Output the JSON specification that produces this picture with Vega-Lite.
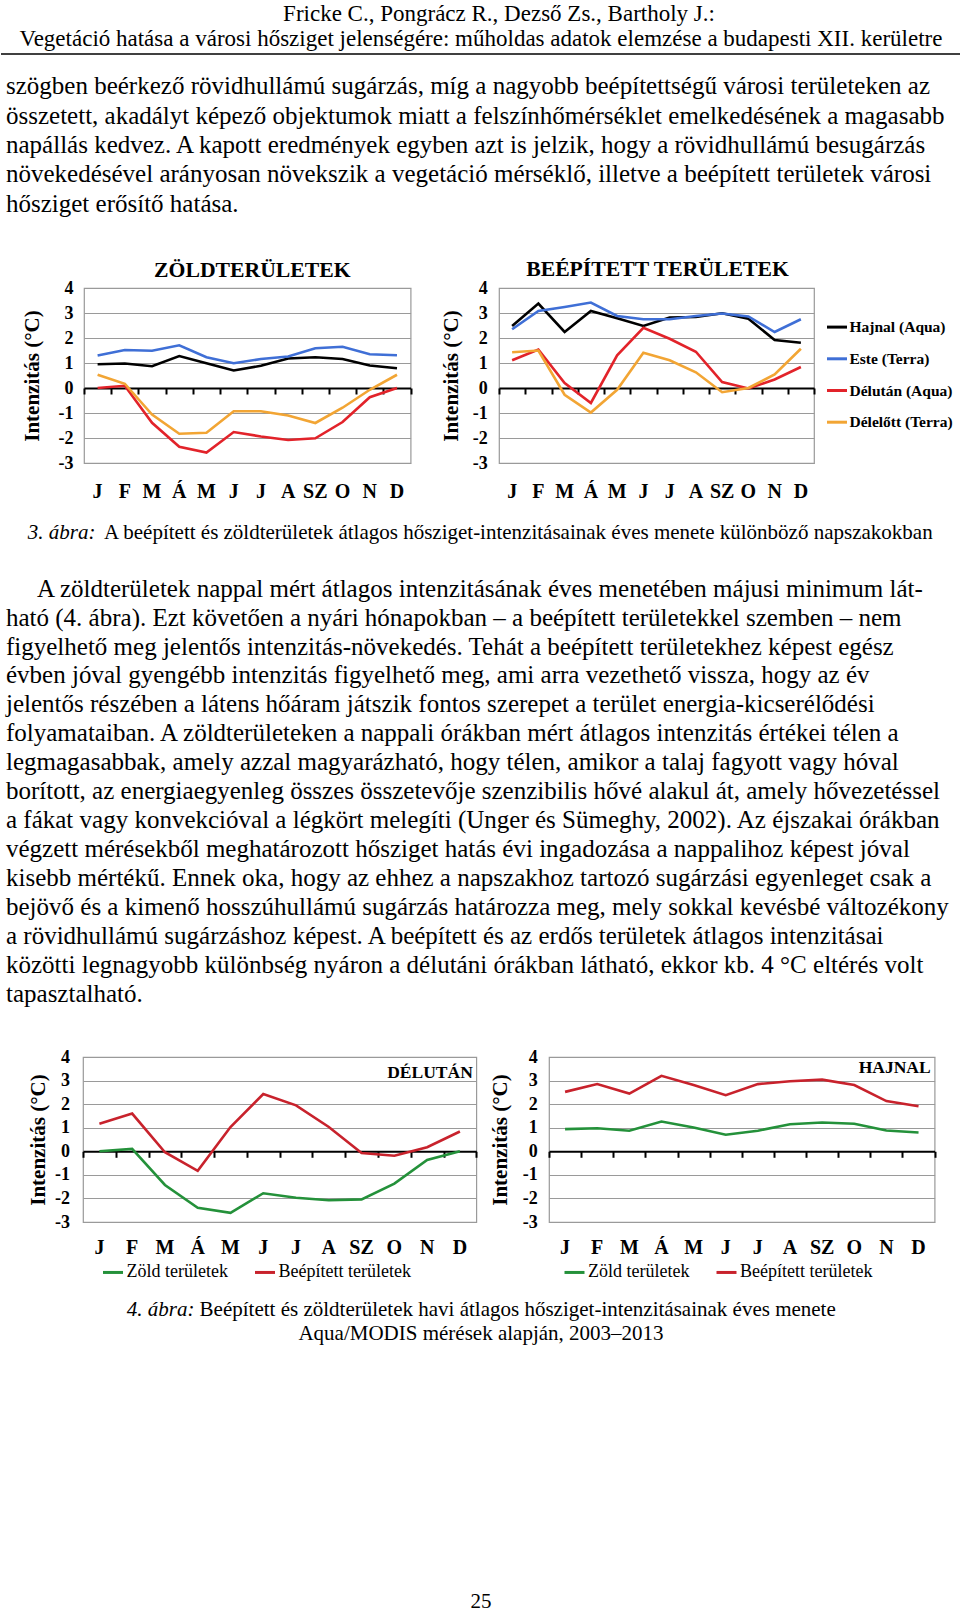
{
  "$schema": "https://vega.github.io/schema/vega-lite/v6.json",
  "background": "white",
  "padding": 0,
  "spacing": 0,
  "config": {
    "view": {"stroke": null},
    "font": "Liberation Serif",
    "concat": {"spacing": 0}
  },
  "resolve": {"scale": {"color": "independent", "x": "independent", "y": "independent"}, "legend": {"color": "independent"}},
  "datasets": {
    "fig3": [
      {"panel": "zold", "series": "Hajnal (Aqua)", "m": 1, "v": 0.95}, {"panel": "zold", "series": "Hajnal (Aqua)", "m": 2, "v": 0.98}, {"panel": "zold", "series": "Hajnal (Aqua)", "m": 3, "v": 0.87}, {"panel": "zold", "series": "Hajnal (Aqua)", "m": 4, "v": 1.28}, {"panel": "zold", "series": "Hajnal (Aqua)", "m": 5, "v": 0.99}, {"panel": "zold", "series": "Hajnal (Aqua)", "m": 6, "v": 0.70}, {"panel": "zold", "series": "Hajnal (Aqua)", "m": 7, "v": 0.89}, {"panel": "zold", "series": "Hajnal (Aqua)", "m": 8, "v": 1.18}, {"panel": "zold", "series": "Hajnal (Aqua)", "m": 9, "v": 1.23}, {"panel": "zold", "series": "Hajnal (Aqua)", "m": 10, "v": 1.16}, {"panel": "zold", "series": "Hajnal (Aqua)", "m": 11, "v": 0.90}, {"panel": "zold", "series": "Hajnal (Aqua)", "m": 12, "v": 0.79},
      {"panel": "zold", "series": "Este (Terra)", "m": 1, "v": 1.30}, {"panel": "zold", "series": "Este (Terra)", "m": 2, "v": 1.52}, {"panel": "zold", "series": "Este (Terra)", "m": 3, "v": 1.49}, {"panel": "zold", "series": "Este (Terra)", "m": 4, "v": 1.71}, {"panel": "zold", "series": "Este (Terra)", "m": 5, "v": 1.23}, {"panel": "zold", "series": "Este (Terra)", "m": 6, "v": 0.99}, {"panel": "zold", "series": "Este (Terra)", "m": 7, "v": 1.16}, {"panel": "zold", "series": "Este (Terra)", "m": 8, "v": 1.26}, {"panel": "zold", "series": "Este (Terra)", "m": 9, "v": 1.59}, {"panel": "zold", "series": "Este (Terra)", "m": 10, "v": 1.65}, {"panel": "zold", "series": "Este (Terra)", "m": 11, "v": 1.35}, {"panel": "zold", "series": "Este (Terra)", "m": 12, "v": 1.31},
      {"panel": "zold", "series": "Délután (Aqua)", "m": 1, "v": 0.0}, {"panel": "zold", "series": "Délután (Aqua)", "m": 2, "v": 0.09}, {"panel": "zold", "series": "Délután (Aqua)", "m": 3, "v": -1.39}, {"panel": "zold", "series": "Délután (Aqua)", "m": 4, "v": -2.35}, {"panel": "zold", "series": "Délután (Aqua)", "m": 5, "v": -2.58}, {"panel": "zold", "series": "Délután (Aqua)", "m": 6, "v": -1.76}, {"panel": "zold", "series": "Délután (Aqua)", "m": 7, "v": -1.94}, {"panel": "zold", "series": "Délután (Aqua)", "m": 8, "v": -2.08}, {"panel": "zold", "series": "Délután (Aqua)", "m": 9, "v": -2.01}, {"panel": "zold", "series": "Délután (Aqua)", "m": 10, "v": -1.36}, {"panel": "zold", "series": "Délután (Aqua)", "m": 11, "v": -0.37}, {"panel": "zold", "series": "Délután (Aqua)", "m": 12, "v": 0.0},
      {"panel": "zold", "series": "Délelőtt (Terra)", "m": 1, "v": 0.53}, {"panel": "zold", "series": "Délelőtt (Terra)", "m": 2, "v": 0.17}, {"panel": "zold", "series": "Délelőtt (Terra)", "m": 3, "v": -1.06}, {"panel": "zold", "series": "Délelőtt (Terra)", "m": 4, "v": -1.83}, {"panel": "zold", "series": "Délelőtt (Terra)", "m": 5, "v": -1.79}, {"panel": "zold", "series": "Délelőtt (Terra)", "m": 6, "v": -0.93}, {"panel": "zold", "series": "Délelőtt (Terra)", "m": 7, "v": -0.93}, {"panel": "zold", "series": "Délelőtt (Terra)", "m": 8, "v": -1.10}, {"panel": "zold", "series": "Délelőtt (Terra)", "m": 9, "v": -1.40}, {"panel": "zold", "series": "Délelőtt (Terra)", "m": 10, "v": -0.79}, {"panel": "zold", "series": "Délelőtt (Terra)", "m": 11, "v": -0.07}, {"panel": "zold", "series": "Délelőtt (Terra)", "m": 12, "v": 0.53},
      {"panel": "beep", "series": "Hajnal (Aqua)", "m": 1, "v": 2.48}, {"panel": "beep", "series": "Hajnal (Aqua)", "m": 2, "v": 3.38}, {"panel": "beep", "series": "Hajnal (Aqua)", "m": 3, "v": 2.24}, {"panel": "beep", "series": "Hajnal (Aqua)", "m": 4, "v": 3.08}, {"panel": "beep", "series": "Hajnal (Aqua)", "m": 5, "v": 2.79}, {"panel": "beep", "series": "Hajnal (Aqua)", "m": 6, "v": 2.48}, {"panel": "beep", "series": "Hajnal (Aqua)", "m": 7, "v": 2.82}, {"panel": "beep", "series": "Hajnal (Aqua)", "m": 8, "v": 2.84}, {"panel": "beep", "series": "Hajnal (Aqua)", "m": 9, "v": 2.99}, {"panel": "beep", "series": "Hajnal (Aqua)", "m": 10, "v": 2.77}, {"panel": "beep", "series": "Hajnal (Aqua)", "m": 11, "v": 1.92}, {"panel": "beep", "series": "Hajnal (Aqua)", "m": 12, "v": 1.81},
      {"panel": "beep", "series": "Este (Terra)", "m": 1, "v": 2.35}, {"panel": "beep", "series": "Este (Terra)", "m": 2, "v": 3.08}, {"panel": "beep", "series": "Este (Terra)", "m": 3, "v": 3.24}, {"panel": "beep", "series": "Este (Terra)", "m": 4, "v": 3.42}, {"panel": "beep", "series": "Este (Terra)", "m": 5, "v": 2.88}, {"panel": "beep", "series": "Este (Terra)", "m": 6, "v": 2.75}, {"panel": "beep", "series": "Este (Terra)", "m": 7, "v": 2.75}, {"panel": "beep", "series": "Este (Terra)", "m": 8, "v": 2.88}, {"panel": "beep", "series": "Este (Terra)", "m": 9, "v": 2.98}, {"panel": "beep", "series": "Este (Terra)", "m": 10, "v": 2.86}, {"panel": "beep", "series": "Este (Terra)", "m": 11, "v": 2.24}, {"panel": "beep", "series": "Este (Terra)", "m": 12, "v": 2.75},
      {"panel": "beep", "series": "Délután (Aqua)", "m": 1, "v": 1.11}, {"panel": "beep", "series": "Délután (Aqua)", "m": 2, "v": 1.54}, {"panel": "beep", "series": "Délután (Aqua)", "m": 3, "v": 0.20}, {"panel": "beep", "series": "Délután (Aqua)", "m": 4, "v": -0.60}, {"panel": "beep", "series": "Délután (Aqua)", "m": 5, "v": 1.31}, {"panel": "beep", "series": "Délután (Aqua)", "m": 6, "v": 2.41}, {"panel": "beep", "series": "Délután (Aqua)", "m": 7, "v": 1.97}, {"panel": "beep", "series": "Délután (Aqua)", "m": 8, "v": 1.45}, {"panel": "beep", "series": "Délután (Aqua)", "m": 9, "v": 0.24}, {"panel": "beep", "series": "Délután (Aqua)", "m": 10, "v": -0.02}, {"panel": "beep", "series": "Délután (Aqua)", "m": 11, "v": 0.34}, {"panel": "beep", "series": "Délután (Aqua)", "m": 12, "v": 0.84},
      {"panel": "beep", "series": "Délelőtt (Terra)", "m": 1, "v": 1.43}, {"panel": "beep", "series": "Délelőtt (Terra)", "m": 2, "v": 1.50}, {"panel": "beep", "series": "Délelőtt (Terra)", "m": 3, "v": -0.27}, {"panel": "beep", "series": "Délelőtt (Terra)", "m": 4, "v": -0.98}, {"panel": "beep", "series": "Délelőtt (Terra)", "m": 5, "v": -0.07}, {"panel": "beep", "series": "Délelőtt (Terra)", "m": 6, "v": 1.41}, {"panel": "beep", "series": "Délelőtt (Terra)", "m": 7, "v": 1.11}, {"panel": "beep", "series": "Délelőtt (Terra)", "m": 8, "v": 0.63}, {"panel": "beep", "series": "Délelőtt (Terra)", "m": 9, "v": -0.17}, {"panel": "beep", "series": "Délelőtt (Terra)", "m": 10, "v": 0.0}, {"panel": "beep", "series": "Délelőtt (Terra)", "m": 11, "v": 0.54}, {"panel": "beep", "series": "Délelőtt (Terra)", "m": 12, "v": 1.57}
    ],
    "fig4": [
      {"panel": "delutan", "series": "Zöld területek", "m": 1, "v": 0.0}, {"panel": "delutan", "series": "Zöld területek", "m": 2, "v": 0.10}, {"panel": "delutan", "series": "Zöld területek", "m": 3, "v": -1.43}, {"panel": "delutan", "series": "Zöld területek", "m": 4, "v": -2.40}, {"panel": "delutan", "series": "Zöld területek", "m": 5, "v": -2.61}, {"panel": "delutan", "series": "Zöld területek", "m": 6, "v": -1.78}, {"panel": "delutan", "series": "Zöld területek", "m": 7, "v": -1.97}, {"panel": "delutan", "series": "Zöld területek", "m": 8, "v": -2.08}, {"panel": "delutan", "series": "Zöld területek", "m": 9, "v": -2.04}, {"panel": "delutan", "series": "Zöld területek", "m": 10, "v": -1.37}, {"panel": "delutan", "series": "Zöld területek", "m": 11, "v": -0.37}, {"panel": "delutan", "series": "Zöld területek", "m": 12, "v": 0.0},
      {"panel": "delutan", "series": "Beépített területek", "m": 1, "v": 1.17}, {"panel": "delutan", "series": "Beépített területek", "m": 2, "v": 1.60}, {"panel": "delutan", "series": "Beépített területek", "m": 3, "v": -0.04}, {"panel": "delutan", "series": "Beépített területek", "m": 4, "v": -0.83}, {"panel": "delutan", "series": "Beépített területek", "m": 5, "v": 1.03}, {"panel": "delutan", "series": "Beépített területek", "m": 6, "v": 2.43}, {"panel": "delutan", "series": "Beépített területek", "m": 7, "v": 1.95}, {"panel": "delutan", "series": "Beépített területek", "m": 8, "v": 1.03}, {"panel": "delutan", "series": "Beépített területek", "m": 9, "v": -0.07}, {"panel": "delutan", "series": "Beépített területek", "m": 10, "v": -0.19}, {"panel": "delutan", "series": "Beépített területek", "m": 11, "v": 0.17}, {"panel": "delutan", "series": "Beépített területek", "m": 12, "v": 0.84},
      {"panel": "hajnal", "series": "Zöld területek", "m": 1, "v": 0.94}, {"panel": "hajnal", "series": "Zöld területek", "m": 2, "v": 0.98}, {"panel": "hajnal", "series": "Zöld területek", "m": 3, "v": 0.87}, {"panel": "hajnal", "series": "Zöld területek", "m": 4, "v": 1.26}, {"panel": "hajnal", "series": "Zöld területek", "m": 5, "v": 1.01}, {"panel": "hajnal", "series": "Zöld területek", "m": 6, "v": 0.70}, {"panel": "hajnal", "series": "Zöld területek", "m": 7, "v": 0.87}, {"panel": "hajnal", "series": "Zöld területek", "m": 8, "v": 1.15}, {"panel": "hajnal", "series": "Zöld területek", "m": 9, "v": 1.22}, {"panel": "hajnal", "series": "Zöld területek", "m": 10, "v": 1.17}, {"panel": "hajnal", "series": "Zöld területek", "m": 11, "v": 0.88}, {"panel": "hajnal", "series": "Zöld területek", "m": 12, "v": 0.80},
      {"panel": "hajnal", "series": "Beépített területek", "m": 1, "v": 2.52}, {"panel": "hajnal", "series": "Beépített területek", "m": 2, "v": 2.85}, {"panel": "hajnal", "series": "Beépített területek", "m": 3, "v": 2.45}, {"panel": "hajnal", "series": "Beépített területek", "m": 4, "v": 3.20}, {"panel": "hajnal", "series": "Beépített területek", "m": 5, "v": 2.81}, {"panel": "hajnal", "series": "Beépített területek", "m": 6, "v": 2.38}, {"panel": "hajnal", "series": "Beépített területek", "m": 7, "v": 2.85}, {"panel": "hajnal", "series": "Beépített területek", "m": 8, "v": 2.97}, {"panel": "hajnal", "series": "Beépített területek", "m": 9, "v": 3.04}, {"panel": "hajnal", "series": "Beépített területek", "m": 10, "v": 2.81}, {"panel": "hajnal", "series": "Beépített területek", "m": 11, "v": 2.13}, {"panel": "hajnal", "series": "Beépített területek", "m": 12, "v": 1.91}
    ]
  },
  "vconcat": [
    {
      "width": 960, "height": 57,
      "layer": [
        {
          "data": {"values": [
            {"line": 1, "text": "Fricke C., Pongrácz R., Dezső Zs., Bartholy J.:"}
          ]},
          "mark": {"type": "text", "font": "Liberation Serif", "fontSize": 23, "align": "center", "baseline": "middle", "color": "#000", "dx": 18},
          "encoding": {
            "y": {"field": "line", "type": "quantitative", "scale": {"domain": [0.44, 2.72], "range": [0, 57], "nice": false, "zero": false}, "axis": null},
            "text": {"field": "text"}
          }
        },
        {
          "data": {"values": [
            {"line": 2, "text": "Vegetáció hatása a városi hősziget jelenségére: műholdas adatok elemzése a budapesti XII. kerületre"}
          ]},
          "mark": {"type": "text", "font": "Liberation Serif", "fontSize": 23, "align": "center", "baseline": "middle", "color": "#000"},
          "encoding": {
            "y": {"field": "line", "type": "quantitative", "axis": null},
            "text": {"field": "text"}
          }
        },
        {
          "data": {"values": [{}]},
          "mark": {"type": "rule", "color": "#000", "strokeWidth": 1.5},
          "encoding": {"y": {"datum": 2.6}}
        }
      ]
    },
    {
      "width": 960, "height": 200.15,
      "data": {"values": [
        {"line": 1, "text": "szögben beérkező rövidhullámú sugárzás, míg a nagyobb beépítettségű városi területeken az"},
        {"line": 2, "text": "összetett, akadályt képező objektumok miatt a felszínhőmérséklet emelkedésének a magasabb"},
        {"line": 3, "text": "napállás kedvez. A kapott eredmények egyben azt is jelzik, hogy a rövidhullámú besugárzás"},
        {"line": 4, "text": "növekedésével arányosan növekszik a vegetáció mérséklő, illetve a beépített területek városi"},
        {"line": 5, "text": "hősziget erősítő hatása."}
      ]},
      "mark": {"type": "text", "font": "Liberation Serif", "fontSize": 25, "align": "left", "baseline": "middle", "color": "#000", "x": 5},
      "encoding": {
        "y": {"field": "line", "type": "quantitative", "scale": {"domain": [-0.0024, 6.8216], "range": [0, 200.15], "nice": false, "zero": false}, "axis": null},
        "text": {"field": "text"}
      }
    },
    {
      "bounds": "flush",
      "spacing": 0,
      "resolve": {"scale": {"color": "independent", "x": "independent", "y": "independent"}, "legend": {"color": "independent"}},
      "hconcat": [
        {"width": 82.7, "height": 175, "data": {"values": [{}]}, "mark": {"type": "text"}, "encoding": {"text": {"value": ""}}},
        {
          "width": 326.6, "height": 175,
          "view": {"stroke": "#9a9a9a", "strokeWidth": 1.2},
          "resolve": {"axis": {"x": "independent", "y": "independent"}},
          "layer": [
            {
              "data": {"name": "fig3"},
              "transform": [{"filter": "datum.panel === 'zold'"}],
              "mark": {"type": "line", "strokeWidth": 2.6},
              "encoding": {
                "x": {"field": "m", "type": "ordinal", "scale": {"type": "band", "paddingInner": 0, "paddingOuter": 0},
                  "axis": {"orient": "bottom", "offset": -75, "labels": false, "title": null, "grid": false, "domain": true, "domainColor": "#000", "domainWidth": 2, "ticks": true, "tickColor": "#000", "tickWidth": 2, "tickSize": 6, "tickBand": "extent"}},
                "y": {"field": "v", "type": "quantitative", "scale": {"domain": [-3, 4], "nice": false, "zero": false},
                  "axis": {"values": [-3, -2, -1, 0, 1, 2, 3, 4], "labelExpr": "replace(datum.label, '−', '-')", "grid": true, "gridColor": "#9a9a9a", "gridWidth": 1.2, "domain": false, "ticks": false, "tickSize": 0, "labelPadding": 11, "labelFont": "Liberation Serif", "labelFontSize": 18, "labelFontWeight": "bold", "labelColor": "#000", "labelBaseline": "middle", "title": "Intenzitás (°C)", "titleFont": "Liberation Serif", "titleFontSize": 21, "titleFontWeight": "bold", "titleColor": "#000", "titleAngle": -90, "titleBaseline": "middle", "titleAlign": "center", "titleX": -52, "titleY": 87.5}},
                "color": {"field": "series", "type": "nominal", "scale": {"domain": ["Hajnal (Aqua)", "Este (Terra)", "Délután (Aqua)", "Délelőtt (Terra)"], "range": ["#000000", "#3f6fd6", "#e2232a", "#f2a534"]}, "legend": null}
              }
            },
            {
              "data": {"name": "fig3"},
              "transform": [{"filter": "datum.panel === 'zold'"}],
              "mark": {"type": "line", "opacity": 0},
              "encoding": {
                "x": {"field": "m", "type": "ordinal",
                  "axis": {"orient": "bottom", "domain": false, "ticks": false, "tickSize": 0, "grid": false, "title": null, "labelPadding": 28, "labelBaseline": "middle", "labelAngle": 0, "labelOverlap": false, "labelFont": "Liberation Serif", "labelFontSize": 20, "labelFontWeight": "bold", "labelColor": "#000", "labelExpr": "['J','F','M','Á','M','J','J','A','SZ','O','N','D'][datum.value-1]"}},
                "y": {"field": "v", "type": "quantitative", "axis": null},
                "detail": {"field": "series"}
              }
            },
            {
              "data": {"values": [{"t": "ZÖLDTERÜLETEK"}]},
              "mark": {"type": "text", "font": "Liberation Serif", "fontSize": 21.7, "fontWeight": "bold", "color": "#000", "baseline": "middle", "align": "center", "dy": -18, "dx": 5},
              "encoding": {"y": {"datum": 4, "axis": null}, "text": {"field": "t"}}
            }
          ]
        },
        {"width": 87.4, "height": 175, "data": {"values": [{}]}, "mark": {"type": "text"}, "encoding": {"text": {"value": ""}}},
        {
          "width": 315, "height": 175,
          "view": {"stroke": "#9a9a9a", "strokeWidth": 1.2},
          "resolve": {"axis": {"x": "independent", "y": "independent"}},
          "layer": [
            {
              "data": {"name": "fig3"},
              "transform": [{"filter": "datum.panel === 'beep'"}],
              "mark": {"type": "line", "strokeWidth": 2.6},
              "encoding": {
                "x": {"field": "m", "type": "ordinal", "scale": {"type": "band", "paddingInner": 0, "paddingOuter": 0},
                  "axis": {"orient": "bottom", "offset": -75, "labels": false, "title": null, "grid": false, "domain": true, "domainColor": "#000", "domainWidth": 2, "ticks": true, "tickColor": "#000", "tickWidth": 2, "tickSize": 6, "tickBand": "extent"}},
                "y": {"field": "v", "type": "quantitative", "scale": {"domain": [-3, 4], "nice": false, "zero": false},
                  "axis": {"values": [-3, -2, -1, 0, 1, 2, 3, 4], "labelExpr": "replace(datum.label, '−', '-')", "grid": true, "gridColor": "#9a9a9a", "gridWidth": 1.2, "domain": false, "ticks": false, "tickSize": 0, "labelPadding": 11.7, "labelFont": "Liberation Serif", "labelFontSize": 18, "labelFontWeight": "bold", "labelColor": "#000", "labelBaseline": "middle", "title": "Intenzitás (°C)", "titleFont": "Liberation Serif", "titleFontSize": 21, "titleFontWeight": "bold", "titleColor": "#000", "titleAngle": -90, "titleBaseline": "middle", "titleAlign": "center", "titleX": -48, "titleY": 87.5}},
                "color": {"field": "series", "type": "nominal", "scale": {"domain": ["Hajnal (Aqua)", "Este (Terra)", "Délután (Aqua)", "Délelőtt (Terra)"], "range": ["#000000", "#3f6fd6", "#e2232a", "#f2a534"]},
                  "legend": {"orient": "none", "legendX": 326.5, "legendY": 27.6, "direction": "vertical", "title": null, "symbolType": "stroke", "symbolSize": 400, "symbolStrokeWidth": 3, "labelFont": "Liberation Serif", "labelFontSize": 15.5, "labelFontWeight": "bold", "labelColor": "#000", "labelOffset": 1, "rowPadding": 11.7, "padding": 0}}
              }
            },
            {
              "data": {"name": "fig3"},
              "transform": [{"filter": "datum.panel === 'beep'"}],
              "mark": {"type": "line", "opacity": 0},
              "encoding": {
                "x": {"field": "m", "type": "ordinal",
                  "axis": {"orient": "bottom", "domain": false, "ticks": false, "tickSize": 0, "grid": false, "title": null, "labelPadding": 28, "labelBaseline": "middle", "labelAngle": 0, "labelOverlap": false, "labelFont": "Liberation Serif", "labelFontSize": 20, "labelFontWeight": "bold", "labelColor": "#000", "labelExpr": "['J','F','M','Á','M','J','J','A','SZ','O','N','D'][datum.value-1]"}},
                "y": {"field": "v", "type": "quantitative", "axis": null},
                "detail": {"field": "series"}
              }
            },
            {
              "data": {"values": [{"t": "BEÉPÍTETT TERÜLETEK"}]},
              "mark": {"type": "text", "font": "Liberation Serif", "fontSize": 21.7, "fontWeight": "bold", "color": "#000", "baseline": "middle", "align": "center", "dy": -19, "dx": 1},
              "encoding": {"y": {"datum": 4, "axis": null}, "text": {"field": "t"}}
            }
          ]
        }
      ]
    },
    {
      "width": 960, "height": 58,
      "layer": [
        {
          "data": {"values": [{"line": 1, "text": "3. ábra:"}]},
          "mark": {"type": "text", "font": "Liberation Serif", "fontSize": 21, "fontStyle": "italic", "align": "right", "baseline": "middle", "color": "#000", "x": 94.5},
          "encoding": {
            "y": {"field": "line", "type": "quantitative", "scale": {"domain": [-0.0333, 1.9], "range": [0, 58], "nice": false, "zero": false}, "axis": null},
            "text": {"field": "text"}
          }
        },
        {
          "data": {"values": [{"line": 1, "text": "A beépített és zöldterületek átlagos hősziget-intenzitásainak éves menete különböző napszakokban"}]},
          "mark": {"type": "text", "font": "Liberation Serif", "fontSize": 21, "align": "left", "baseline": "middle", "color": "#000", "x": 103},
          "encoding": {
            "y": {"field": "line", "type": "quantitative", "axis": null},
            "text": {"field": "text"}
          }
        }
      ]
    },
    {
      "width": 960, "height": 487,
      "layer": [
        {
          "data": {"values": [
            {"line": 1, "text": "A zöldterületek nappal mért átlagos intenzitásának éves menetében májusi minimum lát-"}
          ]},
          "mark": {"type": "text", "font": "Liberation Serif", "fontSize": 25, "align": "left", "baseline": "middle", "color": "#000", "x": 36},
          "encoding": {
            "y": {"field": "line", "type": "quantitative", "scale": {"domain": [0.01243, 16.8287], "range": [0, 487], "nice": false, "zero": false}, "axis": null},
            "text": {"field": "text"}
          }
        },
        {
          "data": {"values": [
            {"line": 2, "text": "ható (4. ábra). Ezt követően a nyári hónapokban – a beépített területekkel szemben – nem"},
            {"line": 3, "text": "figyelhető meg jelentős intenzitás-növekedés. Tehát a beépített területekhez képest egész"},
            {"line": 4, "text": "évben jóval gyengébb intenzitás figyelhető meg, ami arra vezethető vissza, hogy az év"},
            {"line": 5, "text": "jelentős részében a látens hőáram játszik fontos szerepet a terület energia-kicserélődési"},
            {"line": 6, "text": "folyamataiban. A zöldterületeken a nappali órákban mért átlagos intenzitás értékei télen a"},
            {"line": 7, "text": "legmagasabbak, amely azzal magyarázható, hogy télen, amikor a talaj fagyott vagy hóval"},
            {"line": 8, "text": "borított, az energiaegyenleg összes összetevője szenzibilis hővé alakul át, amely hővezetéssel"},
            {"line": 9, "text": "a fákat vagy konvekcióval a légkört melegíti (Unger és Sümeghy, 2002). Az éjszakai órákban"},
            {"line": 10, "text": "végzett mérésekből meghatározott hősziget hatás évi ingadozása a nappalihoz képest jóval"},
            {"line": 11, "text": "kisebb mértékű. Ennek oka, hogy az ehhez a napszakhoz tartozó sugárzási egyenleget csak a"},
            {"line": 12, "text": "bejövő és a kimenő hosszúhullámú sugárzás határozza meg, mely sokkal kevésbé változékony"},
            {"line": 13, "text": "a rövidhullámú sugárzáshoz képest. A beépített és az erdős területek átlagos intenzitásai"},
            {"line": 14, "text": "közötti legnagyobb különbség nyáron a délutáni órákban látható, ekkor kb. 4 °C eltérés volt"},
            {"line": 15, "text": "tapasztalható."}
          ]},
          "mark": {"type": "text", "font": "Liberation Serif", "fontSize": 25, "align": "left", "baseline": "middle", "color": "#000", "x": 5},
          "encoding": {
            "y": {"field": "line", "type": "quantitative", "axis": null},
            "text": {"field": "text"}
          }
        }
      ]
    },
    {
      "bounds": "flush",
      "spacing": 0,
      "resolve": {"scale": {"color": "independent", "x": "independent", "y": "independent"}, "legend": {"color": "independent"}},
      "hconcat": [
        {"width": 81.7, "height": 165, "data": {"values": [{}]}, "mark": {"type": "text"}, "encoding": {"text": {"value": ""}}},
        {
          "width": 393.3, "height": 165,
          "view": {"stroke": "#9a9a9a", "strokeWidth": 1.2},
          "resolve": {"axis": {"x": "independent", "y": "independent"}},
          "layer": [
            {
              "data": {"name": "fig4"},
              "transform": [{"filter": "datum.panel === 'delutan'"}],
              "mark": {"type": "line", "strokeWidth": 2.6},
              "encoding": {
                "x": {"field": "m", "type": "ordinal", "scale": {"type": "band", "paddingInner": 0, "paddingOuter": 0},
                  "axis": {"orient": "bottom", "offset": -70.71, "labels": false, "title": null, "grid": false, "domain": true, "domainColor": "#000", "domainWidth": 2, "ticks": true, "tickColor": "#000", "tickWidth": 2, "tickSize": 6, "tickBand": "extent"}},
                "y": {"field": "v", "type": "quantitative", "scale": {"domain": [-3, 4], "nice": false, "zero": false},
                  "axis": {"values": [-3, -2, -1, 0, 1, 2, 3, 4], "labelExpr": "replace(datum.label, '−', '-')", "grid": true, "gridColor": "#9a9a9a", "gridWidth": 1.2, "domain": false, "ticks": false, "tickSize": 0, "labelPadding": 13.5, "labelFont": "Liberation Serif", "labelFontSize": 18, "labelFontWeight": "bold", "labelColor": "#000", "labelBaseline": "middle", "title": "Intenzitás (°C)", "titleFont": "Liberation Serif", "titleFontSize": 21, "titleFontWeight": "bold", "titleColor": "#000", "titleAngle": -90, "titleBaseline": "middle", "titleAlign": "center", "titleX": -45, "titleY": 82.5}},
                "color": {"field": "series", "type": "nominal", "scale": {"domain": ["Zöld területek", "Beépített területek"], "range": ["#24913a", "#c8222c"]},
                  "legend": {"orient": "none", "legendX": 18.5, "legendY": 203.7, "direction": "horizontal", "title": null, "symbolType": "stroke", "symbolSize": 400, "symbolStrokeWidth": 3, "labelFont": "Liberation Serif", "labelFontSize": 18, "labelColor": "#000", "labelOffset": 2, "columnPadding": 20, "padding": 0}}
              }
            },
            {
              "data": {"name": "fig4"},
              "transform": [{"filter": "datum.panel === 'delutan'"}],
              "mark": {"type": "line", "opacity": 0},
              "encoding": {
                "x": {"field": "m", "type": "ordinal",
                  "axis": {"orient": "bottom", "domain": false, "ticks": false, "tickSize": 0, "grid": false, "title": null, "labelPadding": 25.5, "labelBaseline": "middle", "labelAngle": 0, "labelOverlap": false, "labelFont": "Liberation Serif", "labelFontSize": 20, "labelFontWeight": "bold", "labelColor": "#000", "labelExpr": "['J','F','M','Á','M','J','J','A','SZ','O','N','D'][datum.value-1]"}},
                "y": {"field": "v", "type": "quantitative", "axis": null},
                "detail": {"field": "series"}
              }
            },
            {
              "data": {"values": [{"t": "DÉLUTÁN"}]},
              "mark": {"type": "text", "font": "Liberation Serif", "fontSize": 17.5, "fontWeight": "bold", "color": "#000", "baseline": "middle", "align": "right", "dy": 16, "dx": -3.5},
              "encoding": {"x": {"value": "width"}, "y": {"datum": 4, "axis": null}, "text": {"field": "t"}}
            }
          ]
        },
        {"width": 71.7, "height": 165, "data": {"values": [{}]}, "mark": {"type": "text"}, "encoding": {"text": {"value": ""}}},
        {
          "width": 385.6, "height": 165,
          "view": {"stroke": "#9a9a9a", "strokeWidth": 1.2},
          "resolve": {"axis": {"x": "independent", "y": "independent"}},
          "layer": [
            {
              "data": {"name": "fig4"},
              "transform": [{"filter": "datum.panel === 'hajnal'"}],
              "mark": {"type": "line", "strokeWidth": 2.6},
              "encoding": {
                "x": {"field": "m", "type": "ordinal", "scale": {"type": "band", "paddingInner": 0, "paddingOuter": 0},
                  "axis": {"orient": "bottom", "offset": -70.71, "labels": false, "title": null, "grid": false, "domain": true, "domainColor": "#000", "domainWidth": 2, "ticks": true, "tickColor": "#000", "tickWidth": 2, "tickSize": 6, "tickBand": "extent"}},
                "y": {"field": "v", "type": "quantitative", "scale": {"domain": [-3, 4], "nice": false, "zero": false},
                  "axis": {"values": [-3, -2, -1, 0, 1, 2, 3, 4], "labelExpr": "replace(datum.label, '−', '-')", "grid": true, "gridColor": "#9a9a9a", "gridWidth": 1.2, "domain": false, "ticks": false, "tickSize": 0, "labelPadding": 11.7, "labelFont": "Liberation Serif", "labelFontSize": 18, "labelFontWeight": "bold", "labelColor": "#000", "labelBaseline": "middle", "title": "Intenzitás (°C)", "titleFont": "Liberation Serif", "titleFontSize": 21, "titleFontWeight": "bold", "titleColor": "#000", "titleAngle": -90, "titleBaseline": "middle", "titleAlign": "center", "titleX": -48.7, "titleY": 82.5}},
                "color": {"field": "series", "type": "nominal", "scale": {"domain": ["Zöld területek", "Beépített területek"], "range": ["#24913a", "#c8222c"]},
                  "legend": {"orient": "none", "legendX": 14, "legendY": 203.7, "direction": "horizontal", "title": null, "symbolType": "stroke", "symbolSize": 400, "symbolStrokeWidth": 3, "labelFont": "Liberation Serif", "labelFontSize": 18, "labelColor": "#000", "labelOffset": 2, "columnPadding": 20, "padding": 0}}
              }
            },
            {
              "data": {"name": "fig4"},
              "transform": [{"filter": "datum.panel === 'hajnal'"}],
              "mark": {"type": "line", "opacity": 0},
              "encoding": {
                "x": {"field": "m", "type": "ordinal",
                  "axis": {"orient": "bottom", "domain": false, "ticks": false, "tickSize": 0, "grid": false, "title": null, "labelPadding": 25.5, "labelBaseline": "middle", "labelAngle": 0, "labelOverlap": false, "labelFont": "Liberation Serif", "labelFontSize": 20, "labelFontWeight": "bold", "labelColor": "#000", "labelExpr": "['J','F','M','Á','M','J','J','A','SZ','O','N','D'][datum.value-1]"}},
                "y": {"field": "v", "type": "quantitative", "axis": null},
                "detail": {"field": "series"}
              }
            },
            {
              "data": {"values": [{"t": "HAJNAL"}]},
              "mark": {"type": "text", "font": "Liberation Serif", "fontSize": 17.5, "fontWeight": "bold", "color": "#000", "baseline": "middle", "align": "right", "dy": 11, "dx": -4},
              "encoding": {"x": {"value": "width"}, "y": {"datum": 4, "axis": null}, "text": {"field": "t"}}
            }
          ]
        }
      ]
    },
    {
      "width": 960, "height": 329.6,
      "layer": [
        {
          "data": {"values": [{"line": 1, "text": "4. ábra:"}]},
          "mark": {"type": "text", "font": "Liberation Serif", "fontSize": 21, "fontStyle": "italic", "align": "right", "baseline": "middle", "color": "#000", "x": 193.4},
          "encoding": {
            "y": {"field": "line", "type": "quantitative", "scale": {"domain": [-0.0933, 13.454], "range": [0, 329.6], "nice": false, "zero": false}, "axis": null},
            "text": {"field": "text"}
          }
        },
        {
          "data": {"values": [{"line": 1, "text": "Beépített és zöldterületek havi átlagos hősziget-intenzitásainak éves menete"}]},
          "mark": {"type": "text", "font": "Liberation Serif", "fontSize": 21, "align": "left", "baseline": "middle", "color": "#000", "x": 198.6},
          "encoding": {
            "y": {"field": "line", "type": "quantitative", "axis": null},
            "text": {"field": "text"}
          }
        },
        {
          "data": {"values": [{"line": 2, "text": "Aqua/MODIS mérések alapján, 2003–2013"}, {"line": 13, "text": "25"}]},
          "mark": {"type": "text", "font": "Liberation Serif", "fontSize": 21, "align": "center", "baseline": "middle", "color": "#000"},
          "encoding": {
            "y": {"field": "line", "type": "quantitative", "axis": null},
            "text": {"field": "text"}
          }
        }
      ]
    }
  ]
}
